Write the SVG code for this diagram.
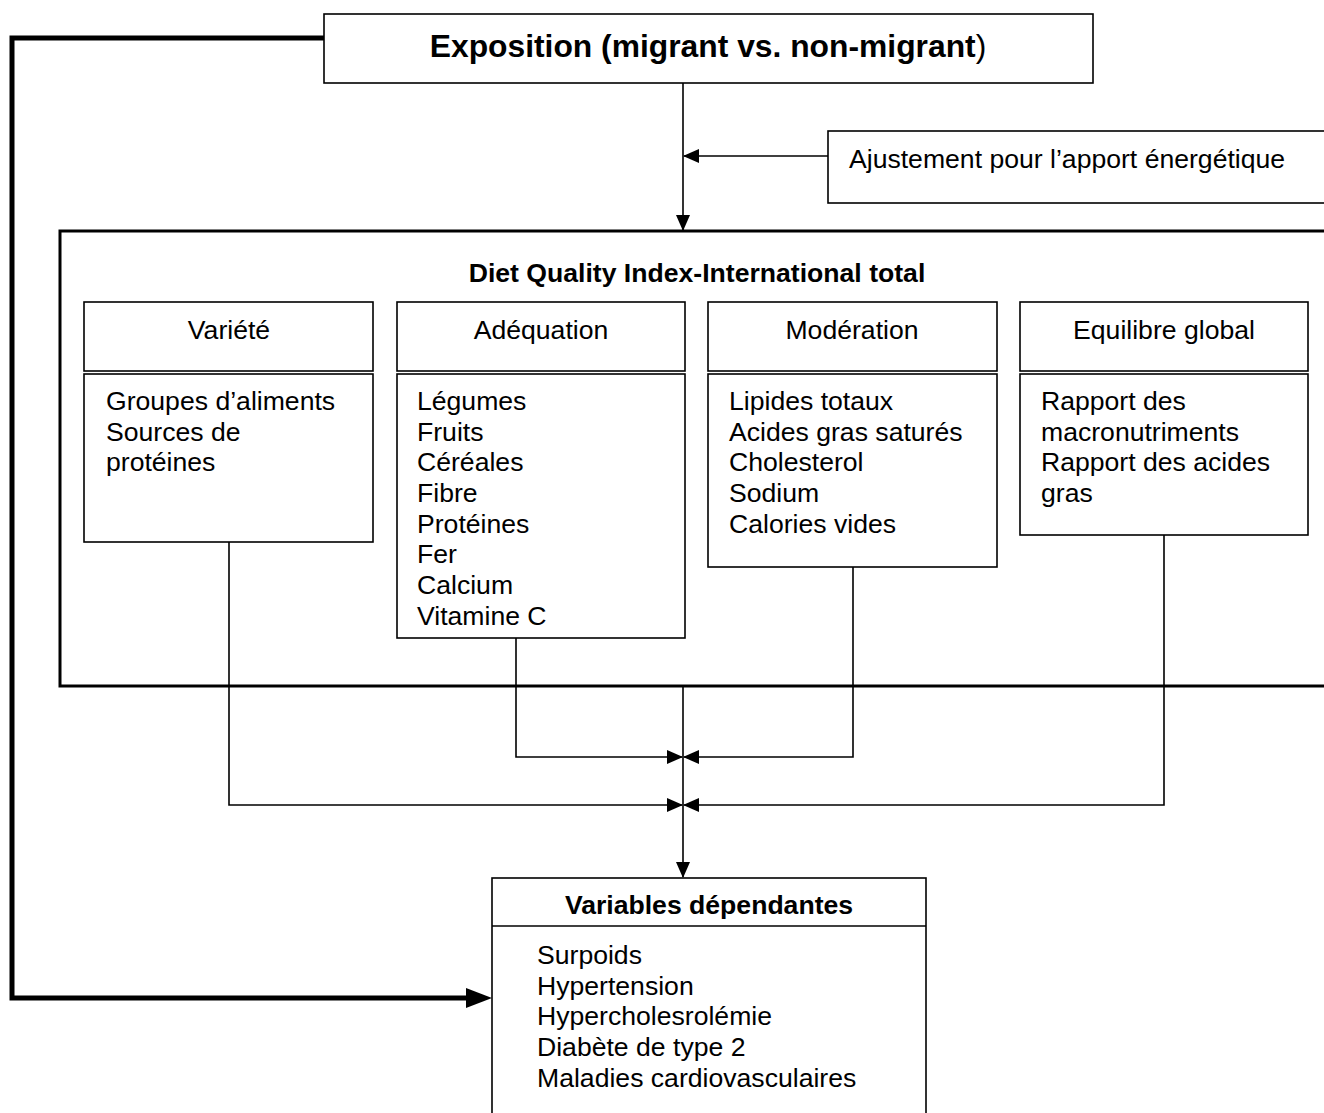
<svg xmlns="http://www.w3.org/2000/svg" width="1324" height="1113" viewBox="0 0 1324 1113">
<style>
.box{fill:#fff;stroke:#000;stroke-width:1.6}
.outer{fill:none;stroke:#000;stroke-width:3}
.ln{fill:none;stroke:#000;stroke-width:1.6}
.thick{fill:none;stroke:#000;stroke-width:5}
text{font-family:"Liberation Sans",Arial,sans-serif;fill:#000}
.t{font-size:26.6px}
.b{font-size:26.6px;font-weight:bold}
.c{text-anchor:middle}
</style>
<defs>
<marker id="ah" markerWidth="16" markerHeight="14" refX="15" refY="7" orient="auto" markerUnits="userSpaceOnUse">
<path d="M0,0 L16,7 L0,14 Z" fill="#000"/>
</marker>
</defs>
<rect width="1324" height="1113" fill="#fff"/>
<g id="connectors">
<path class="thick" d="M324,38 H12 V998 H468"/>
<path d="M466,988 L492,998 L466,1008 Z" fill="#000"/>
<line class="ln" x1="683" y1="83" x2="683" y2="230" marker-end="url(#ah)"/>
<line class="ln" x1="828" y1="156" x2="684" y2="156" marker-end="url(#ah)"/>
<line class="ln" x1="683" y1="686" x2="683" y2="877" marker-end="url(#ah)"/>
<path class="ln" d="M516,638 V757 H682" marker-end="url(#ah)"/>
<path class="ln" d="M853,567 V757 H684" marker-end="url(#ah)"/>
<path class="ln" d="M229,542 V805 H682" marker-end="url(#ah)"/>
<path class="ln" d="M1164,535 V805 H684" marker-end="url(#ah)"/>
</g>
<g id="exposition">
<rect class="box" x="324" y="14" width="769" height="69"/>
<text x="708" y="57" class="c" style="font-size:31.8px"><tspan font-weight="bold">Exposition (migrant vs. non-migrant</tspan>)</text>
</g>
<g id="ajustement">
<rect class="box" x="828" y="131" width="520" height="72"/>
<text x="849" y="168" class="t">Ajustement pour l’apport énergétique</text>
</g>
<g id="dqi">
<rect class="outer" x="60" y="231" width="1300" height="455"/>
<text x="697" y="282" class="b c">Diet Quality Index-International total</text>
</g>
<g id="variete">
<rect class="box" x="84" y="302" width="289" height="69"/>
<text x="229" y="339" class="t c">Variété</text>
<rect class="box" x="84" y="374" width="289" height="168"/>
<text class="t" x="106" y="410">Groupes d’aliments</text>
<text class="t" x="106" y="441">Sources de</text>
<text class="t" x="106" y="471">protéines</text>
</g>
<g id="adequation">
<rect class="box" x="397" y="302" width="288" height="69"/>
<text x="541" y="339" class="t c">Adéquation</text>
<rect class="box" x="397" y="374" width="288" height="264"/>
<text class="t" x="417" y="410">Légumes</text>
<text class="t" x="417" y="441">Fruits</text>
<text class="t" x="417" y="471">Céréales</text>
<text class="t" x="417" y="502">Fibre</text>
<text class="t" x="417" y="533">Protéines</text>
<text class="t" x="417" y="563">Fer</text>
<text class="t" x="417" y="594">Calcium</text>
<text class="t" x="417" y="625">Vitamine C</text>
</g>
<g id="moderation">
<rect class="box" x="708" y="302" width="289" height="69"/>
<text x="852" y="339" class="t c">Modération</text>
<rect class="box" x="708" y="374" width="289" height="193"/>
<text class="t" x="729" y="410">Lipides totaux</text>
<text class="t" x="729" y="441">Acides gras saturés</text>
<text class="t" x="729" y="471">Cholesterol</text>
<text class="t" x="729" y="502">Sodium</text>
<text class="t" x="729" y="533">Calories vides</text>
</g>
<g id="equilibre">
<rect class="box" x="1020" y="302" width="288" height="69"/>
<text x="1164" y="339" class="t c">Equilibre global</text>
<rect class="box" x="1020" y="374" width="288" height="161"/>
<text class="t" x="1041" y="410">Rapport des</text>
<text class="t" x="1041" y="441">macronutriments</text>
<text class="t" x="1041" y="471">Rapport des acides</text>
<text class="t" x="1041" y="502">gras</text>
</g>
<g id="variables">
<rect class="box" x="492" y="878" width="434" height="260"/>
<line class="ln" x1="492" y1="926" x2="926" y2="926"/>
<text x="709" y="914" class="b c">Variables dépendantes</text>
<text class="t" x="537" y="964">Surpoids</text>
<text class="t" x="537" y="995">Hypertension</text>
<text class="t" x="537" y="1025">Hypercholesrolémie</text>
<text class="t" x="537" y="1056">Diabète de type 2</text>
<text class="t" x="537" y="1087">Maladies cardiovasculaires</text>
</g>
</svg>
